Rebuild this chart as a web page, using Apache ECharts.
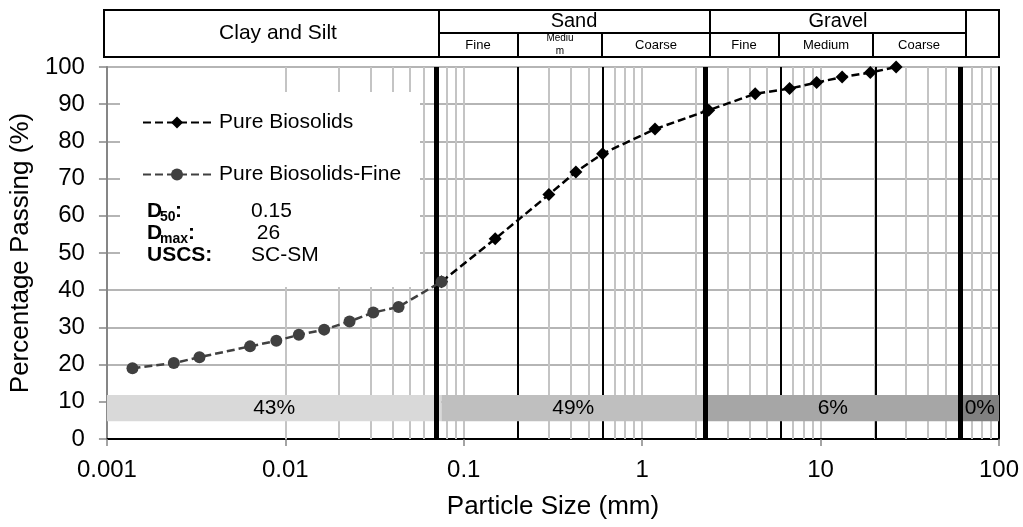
<!DOCTYPE html>
<html>
<head>
<meta charset="utf-8">
<script src="https://cdn.jsdelivr.net/npm/echarts@6/dist/echarts.min.js"></script>
<style>
html,body{margin:0;padding:0;background:#fff;}
#chart{width:1023px;height:527px;}
</style>
</head>
<body>
<div id="chart"></div>
<script>
// ---------------- data ----------------
const seriesNames = ['Pure Biosolids', 'Pure Biosolids-Fine'];
const sizeCoarse = [0.075, 0.15, 0.3, 0.425, 0.6, 1.18, 2.36, 4.3, 6.7, 9.5, 13.2, 19, 26.5];
const passCoarse = [42.3, 53.8, 65.7, 71.8, 76.7, 83.3, 88.4, 92.8, 94.2, 95.8, 97.3, 98.5, 100];
const sizeFine = [0.00139, 0.00237, 0.0033, 0.00634, 0.0089, 0.0119, 0.0165, 0.0229, 0.0311, 0.0431, 0.075];
const passFine = [19.0, 20.4, 22.0, 24.9, 26.4, 28.0, 29.4, 31.6, 34.0, 35.5, 42.3];

const xTickValues = [0.001, 0.01, 0.1, 1, 10, 100];
const xTickLabels = ['0.001', '0.01', '0.1', '1', '10', '100'];
const yTickLabels = ['0','10','20','30','40','50','60','70','80','90','100'];

const fracLabels = ['43%', '49%', '6%', '0%'];
const fracBounds = [0.001, 0.075, 2.25, 61, 100];
const fracLow = 4.8, fracHigh = 11.8;

const thinLines = [0.195, 0.6, 6, 20.5];
const thickLines = [0.068, 2.25, 61];

const statLabels = ['D', 'D', 'USCS:'];
const statSubs = ['50', 'max', ''];
const statValues = ['0.15', ' 26', 'SC-SM'];

// ---------------- styles ----------------
const FONT = '"Liberation Sans", Arial, sans-serif';
const fracColors = ['#d9d9d9', '#bfbfbf', '#a6a6a6', '#808080'];

const minorValues = [];
for (let i = 0; i < xTickValues.length - 1; i++) {
  for (let k = 2; k <= 9; k++) minorValues.push(+(xTickValues[i] * k).toPrecision(3));
}

const chart = echarts.init(document.getElementById('chart'), null, {renderer: 'canvas'});

function headerGraphics() {
  const g = [];
  const L = 104, R = 999, T = 10, M = 33, B = 57;
  const blk = {stroke: '#000', lineWidth: 2};
  g.push({type: 'rect', shape: {x: L, y: T, width: R - L, height: B - T}, style: {fill: '#fff', stroke: '#000', lineWidth: 2}, z: 20});
  const full = [439, 710, 966];
  full.forEach(x => g.push({type: 'line', shape: {x1: x, y1: T, x2: x, y2: B}, style: blk, z: 21}));
  g.push({type: 'line', shape: {x1: 439, y1: M, x2: 966, y2: M}, style: blk, z: 21});
  [518, 602, 779, 873].forEach(x => g.push({type: 'line', shape: {x1: x, y1: M, x2: x, y2: B}, style: blk, z: 21}));
  const txt = (t, x, y, size) => ({type: 'text', x: x, y: y, z: 22,
    style: {text: t, fill: '#000', font: size + 'px ' + FONT, align: 'center', verticalAlign: 'middle'}});
  g.push(txt('Clay and Silt', 278, 33, 21));
  g.push(txt('Sand', 574, 21, 20));
  g.push(txt('Gravel', 838, 21, 20));
  g.push(txt('Fine', 478, 45, 13));
  g.push(txt('Mediu', 560, 38, 10));
  g.push(txt('m', 560, 51, 10));
  g.push(txt('Coarse', 656, 45, 13));
  g.push(txt('Fine', 744, 45, 13));
  g.push(txt('Medium', 826, 45, 13));
  g.push(txt('Coarse', 919, 45, 13));
  return g;
}

function statGraphics() {
  const g = [];
  g.push({type: 'rect', shape: {x: 120, y: 92, width: 300, height: 195}, style: {fill: '#fff'}, z: 3});
  const ys = [211, 233, 255];
  for (let i = 0; i < statLabels.length; i++) {
    g.push({type: 'text', x: 147, y: ys[i], z: 10,
      style: {text: statLabels[i], fill: '#000', font: 'bold 21px ' + FONT, verticalAlign: 'middle'}});
    if (statSubs[i]) {
      g.push({type: 'text', x: 160, y: ys[i] + 6, z: 10,
        style: {text: statSubs[i], fill: '#000', font: 'bold 14px ' + FONT, verticalAlign: 'middle'}});
      const w = statSubs[i] === '50' ? 15 : 28;
      g.push({type: 'text', x: 160 + w, y: ys[i], z: 10,
        style: {text: ':', fill: '#000', font: 'bold 21px ' + FONT, verticalAlign: 'middle'}});
    }
    g.push({type: 'text', x: 251, y: ys[i], z: 10,
      style: {text: statValues[i], fill: '#000', font: '21px ' + FONT, verticalAlign: 'middle'}});
  }
  return g;
}

const vline = (vals, color, width, z) => ({
  silent: true, symbol: ['none', 'none'], z: z, animation: false,
  label: {show: false}, emphasis: {disabled: true},
  lineStyle: {color: color, width: width, type: 'solid'},
  data: vals.map(v => ({xAxis: v}))
});

const option = {
  animation: false,
  backgroundColor: '#fff',
  textStyle: {fontFamily: FONT},
  grid: {left: 105, right: 24, top: 67, bottom: 88, containLabel: false},
  legend: {
    data: seriesNames, orient: 'vertical', left: 137, top: 107,
    itemWidth: 68, itemHeight: 15, itemGap: 31, selectedMode: false, z: 10,
    textStyle: {fontSize: 21, color: '#000', fontFamily: FONT, padding: [0, 0, 0, 3]}
  },
  xAxis: [{
    type: 'log', logBase: 10, min: 0.001, max: 100,
    name: 'Particle Size (mm)', nameLocation: 'middle', nameGap: 55,
    nameTextStyle: {fontSize: 26, color: '#000', fontFamily: FONT},
    axisLine: {show: true, lineStyle: {color: '#868686', width: 2}},
    axisTick: {show: true, length: 7, lineStyle: {color: '#868686', width: 1.5}},
    axisLabel: {fontSize: 24, color: '#000', margin: 19, fontFamily: FONT,
      formatter: v => xTickLabels[Math.round(Math.log10(v)) + 3]},
    splitLine: {show: true, lineStyle: {color: '#c4c4c4', width: 2}}
  }, {
    type: 'log', logBase: 10, min: 0.001, max: 100, position: 'top',
    axisLine: {show: true, lineStyle: {color: '#000', width: 2}},
    axisTick: {show: false}, axisLabel: {show: false}, splitLine: {show: false}
  }],
  yAxis: [{
    type: 'value', min: 0, max: 100, interval: 10,
    name: 'Percentage Passing (%)', nameLocation: 'middle', nameGap: 67, nameRotate: 90,
    nameTextStyle: {fontSize: 26, color: '#000', fontFamily: FONT},
    axisLine: {show: true, lineStyle: {color: '#868686', width: 2}},
    axisTick: {show: true, length: 8, lineStyle: {color: '#868686', width: 1.5}},
    axisLabel: {fontSize: 24, color: '#000', margin: 22, fontFamily: FONT,
      formatter: v => yTickLabels[Math.round(v / 10)]},
    splitLine: {show: true, lineStyle: {color: '#9d9d9d', width: 1.5}}
  }, {
    type: 'value', min: 0, max: 100, position: 'right',
    axisLine: {show: true, lineStyle: {color: '#000', width: 2}},
    axisTick: {show: false}, axisLabel: {show: false}, splitLine: {show: false}
  }],
  graphic: headerGraphics().concat(statGraphics()),
  series: [
    {
      name: '_minor', type: 'line', data: [], silent: true,
      markLine: vline(minorValues, '#c4c4c4', 2, 1)
    },
    {
      name: '_thin', type: 'line', data: [], silent: true,
      markLine: vline(thinLines, '#000', 2, 2)
    },
    {
      name: '_frac', type: 'line', data: [], silent: true,
      markArea: {
        silent: true, z: 3,
        label: {show: true, position: 'inside', fontSize: 21, color: '#000', fontFamily: FONT},
        data: fracLabels.map((lab, i) => [
          {name: lab, xAxis: fracBounds[i], yAxis: fracLow, itemStyle: {color: fracColors[i], opacity: 1, borderWidth: 0}},
          {xAxis: fracBounds[i + 1], yAxis: fracHigh}
        ])
      }
    },
    {
      name: '_thick', type: 'line', data: [], silent: true,
      markLine: vline(thickLines, '#000', 5, 4)
    },
    {
      name: seriesNames[0], type: 'line', z: 6,
      data: sizeCoarse.map((s, i) => [s, passCoarse[i]]),
      symbol: 'diamond', symbolSize: 13, showAllSymbol: true,
      itemStyle: {color: '#000'},
      lineStyle: {color: '#000', width: 2.5, type: [8, 4]}
    },
    {
      name: seriesNames[1], type: 'line', z: 7,
      data: sizeFine.map((s, i) => [s, passFine[i]]),
      symbol: 'circle', symbolSize: 12, showAllSymbol: true,
      itemStyle: {color: '#404040'},
      lineStyle: {color: '#404040', width: 2.5, type: [8, 4]}
    }
  ]
};
chart.setOption(option);
</script>
</body>
</html>
